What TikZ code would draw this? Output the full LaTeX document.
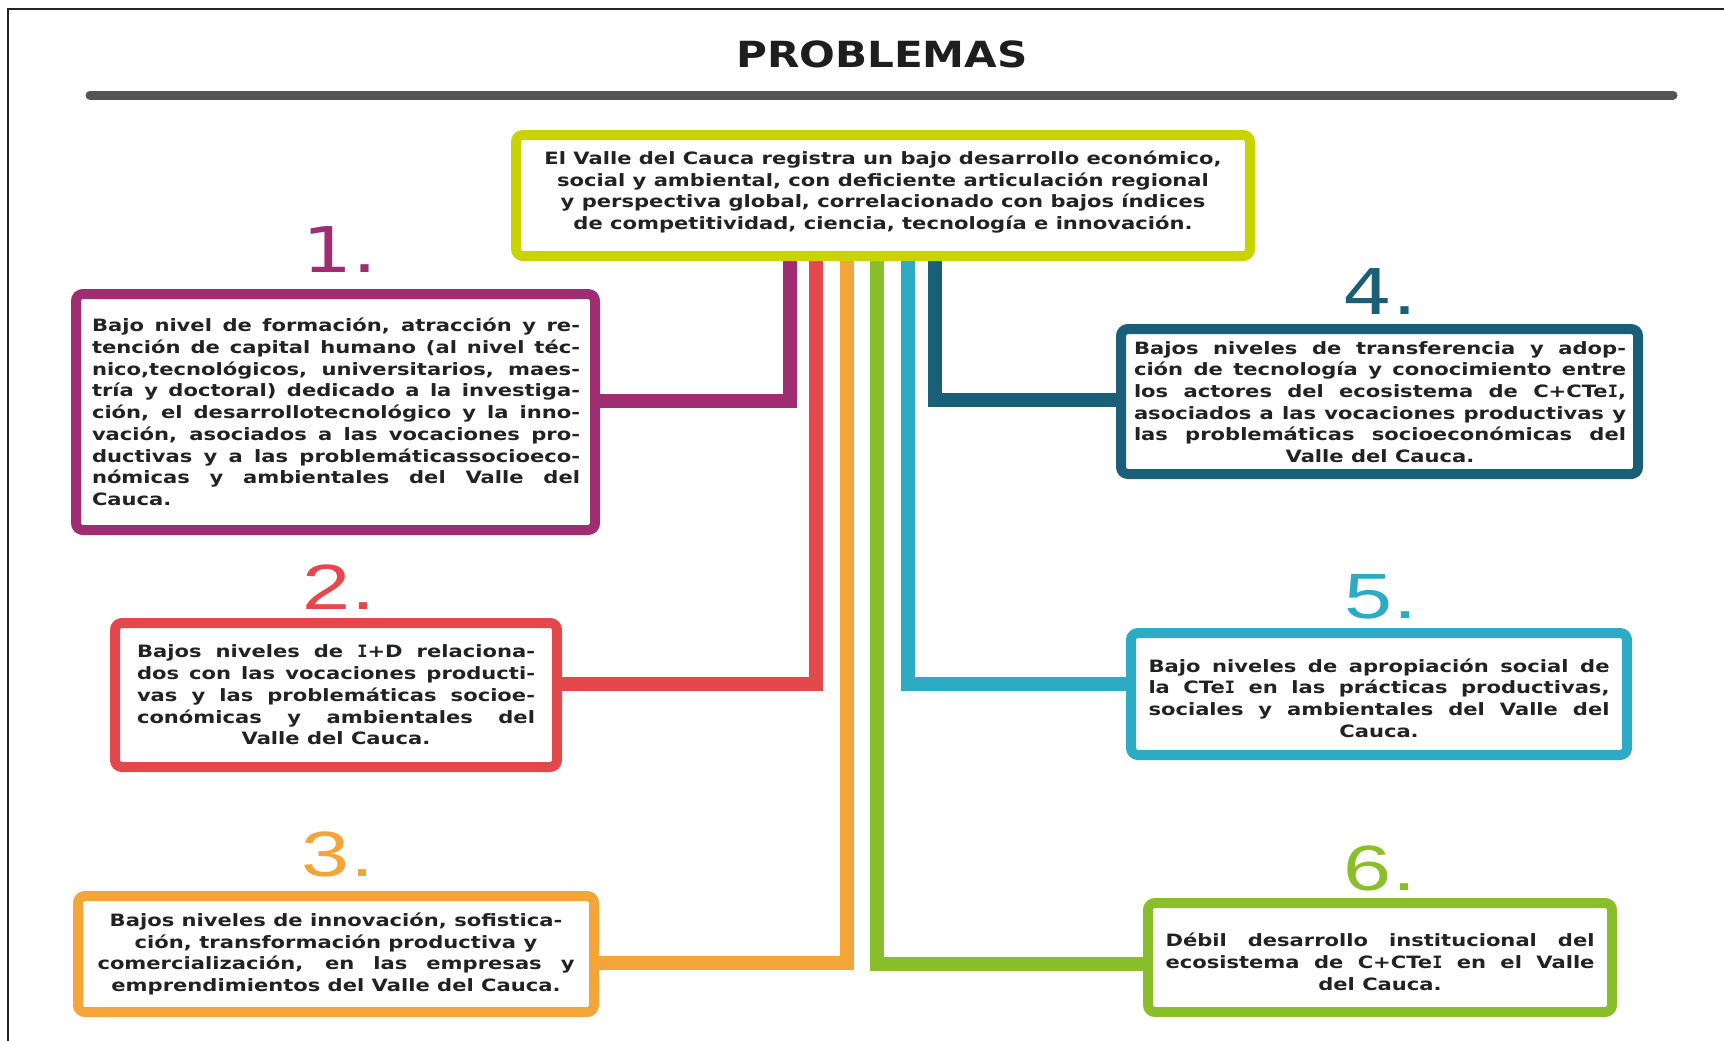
\documentclass[tikz,border=0pt]{standalone}
\usepackage{fontspec}
\usetikzlibrary{backgrounds}
\newfontfamily\bodyf[FakeStretch=1.24]{DejaVu Sans Bold}
\newfontfamily\monoIfont{DejaVu Sans Mono Bold}
\newcommand\serifI{{\monoIfont I}}
\newfontfamily\titlef[FakeStretch=1.17]{DejaVu Sans Bold}
\newfontfamily\numA[FakeStretch=1.25]{DejaVu Sans}
\newfontfamily\numB[FakeStretch=1.35]{Liberation Sans}
\definecolor{cYel}{HTML}{C8D300}
\definecolor{cMag}{HTML}{9E2D71}
\definecolor{cRed}{HTML}{E4484C}
\definecolor{cOra}{HTML}{F4A53A}
\definecolor{cGrn}{HTML}{8BBE2B}
\definecolor{cCya}{HTML}{2DAAC4}
\definecolor{cTea}{HTML}{1B5E77}
\definecolor{txtC}{HTML}{222222}
\definecolor{titleC}{HTML}{1E1E1E}
\definecolor{lineG}{HTML}{555555}
\definecolor{frameC}{HTML}{222222}
\begin{document}
\begin{tikzpicture}[x=1pt,y=-1pt,
  box/.style={draw=#1, line width=10pt, rounded corners=7pt, fill=white, inner sep=0pt},
  btext/.style={font=\bodyf\fontsize{17}{21.7}\selectfont, text=txtC, align=center, inner sep=0pt},
  conn/.style={line width=14pt, draw=#1, line join=miter},
  numa/.style={inner sep=0pt, anchor=base, font=\numA\fontsize{63}{70}\selectfont, text=#1},
  numb/.style={inner sep=0pt, anchor=base, font=\numB\fontsize{64}{70}\selectfont, text=#1}]
\useasboundingbox (0,0) rectangle (1724,1041);
% frame and title
\draw[line width=2pt, draw=frameC] (8,1041) -- (8,9.5) -- (1724,9.5);
\node[inner sep=0pt, anchor=base, font=\titlef\fontsize{36}{40}\selectfont, text=titleC] (title) at (882,67) {PROBLEMAS};
\draw[line width=9pt, draw=lineG, line cap=round] (90,95) -- (1673,95);
% boxes
\node[box=cYel, minimum width=734pt, minimum height=121pt] (top) at (883,195.5) {};
\node[box=cMag, minimum width=519pt, minimum height=236pt] (b1) at (335.5,412) {};
\node[box=cRed, minimum width=442pt, minimum height=144pt] (b2) at (336,695) {};
\node[box=cOra, minimum width=516pt, minimum height=116pt] (b3) at (336,954) {};
\node[box=cTea, minimum width=517pt, minimum height=145pt] (b4) at (1379.5,401.5) {};
\node[box=cCya, minimum width=496pt, minimum height=122pt] (b5) at (1379,694) {};
\node[box=cGrn, minimum width=464pt, minimum height=109pt] (b6) at (1380,957.5) {};
% connectors
\coordinate (k1) at (790,401);
\coordinate (k2) at (816,684);
\coordinate (k3) at (847,963);
\coordinate (k4) at (877,964);
\coordinate (k5) at (908,684);
\coordinate (k6) at (935,400);
\begin{scope}[on background layer]
\fill[white] (0,0) rectangle (1724,1041);
\draw[conn=cMag] (top.south -| k1) -- (k1) -- (k1 -| b1.east);
\draw[conn=cRed] (top.south -| k2) -- (k2) -- (k2 -| b2.east);
\draw[conn=cOra] (top.south -| k3) -- (k3) -- (k3 -| b3.east);
\draw[conn=cGrn] (top.south -| k4) -- (k4) -- (k4 -| b6.west);
\draw[conn=cCya] (top.south -| k5) -- (k5) -- (k5 -| b5.west);
\draw[conn=cTea] (top.south -| k6) -- (k6) -- (k6 -| b4.west);
\end{scope}
% numbers
\node[numa=cMag] (n1) at (340,272) {1.};
\node[numb=cRed] (n2) at (339,609) {2.};
\node[numb=cOra] (n3) at (338,876) {3.};
\node[numa=cTea] (n4) at (1380,314) {4.};
\node[numb=cCya] (n5) at (1381,618) {5.};
\node[numb=cGrn] (n6) at (1380,890) {6.};
% texts
\node[btext] (t0) at (883,192) {El Valle del Cauca registra un bajo desarrollo económico,\\
social y ambiental, con deficiente articulación regional\\
y perspectiva global, correlacionado con bajos índices\\
de competitividad, ciencia, tecnología e innovación.};
\node[btext] (t1) at (336,412) {%
\makebox[488pt][s]{Bajo nivel de formación, atracción y re-}\\
\makebox[488pt][s]{tención de capital humano (al nivel téc-}\\
\makebox[488pt][s]{nico,tecnológicos, universitarios, maes-}\\
\makebox[488pt][s]{tría y doctoral) dedicado a la investiga-}\\
\makebox[488pt][s]{ción, el desarrollotecnológico y la inno-}\\
\makebox[488pt][s]{vación, asociados a las vocaciones pro-}\\
\makebox[488pt][s]{ductivas y a las problemáticassocioeco-}\\
\makebox[488pt][s]{nómicas y ambientales del Valle del}\\
\makebox[488pt][l]{Cauca.}};
\node[btext] (t2) at (336,695) {%
\makebox[398pt][s]{Bajos niveles de \serifI+D relaciona-}\\
\makebox[398pt][s]{dos con las vocaciones producti-}\\
\makebox[398pt][s]{vas y las problemáticas socioe-}\\
\makebox[398pt][s]{conómicas y ambientales del}\\
Valle del Cauca.};
\node[btext] (t3) at (336,954) {%
Bajos niveles de innovación, sofistica-\\
ción, transformación productiva y\\
\makebox[477pt][s]{comercialización, en las empresas y}\\
emprendimientos del Valle del Cauca.};
\node[btext] (t4) at (1380,402) {%
\makebox[492pt][s]{Bajos niveles de transferencia y adop-}\\
\makebox[492pt][s]{ción de tecnología y conocimiento entre}\\
\makebox[492pt][s]{los actores del ecosistema de C+CTe\serifI,}\\
\makebox[492pt][s]{asociados a las vocaciones productivas y}\\
\makebox[492pt][s]{las problemáticas socioeconómicas del}\\
Valle del Cauca.};
\node[btext] (t5) at (1379,698) {%
\makebox[461pt][s]{Bajo niveles de apropiación social de}\\
\makebox[461pt][s]{la CTe\serifI{} en las prácticas productivas,}\\
\makebox[461pt][s]{sociales y ambientales del Valle del}\\
Cauca.};
\node[btext] (t6) at (1380,962) {%
\makebox[429pt][s]{Débil desarrollo institucional del}\\
\makebox[429pt][s]{ecosistema de C+CTe\serifI{} en el Valle}\\
del Cauca.};
\end{tikzpicture}
\end{document}
